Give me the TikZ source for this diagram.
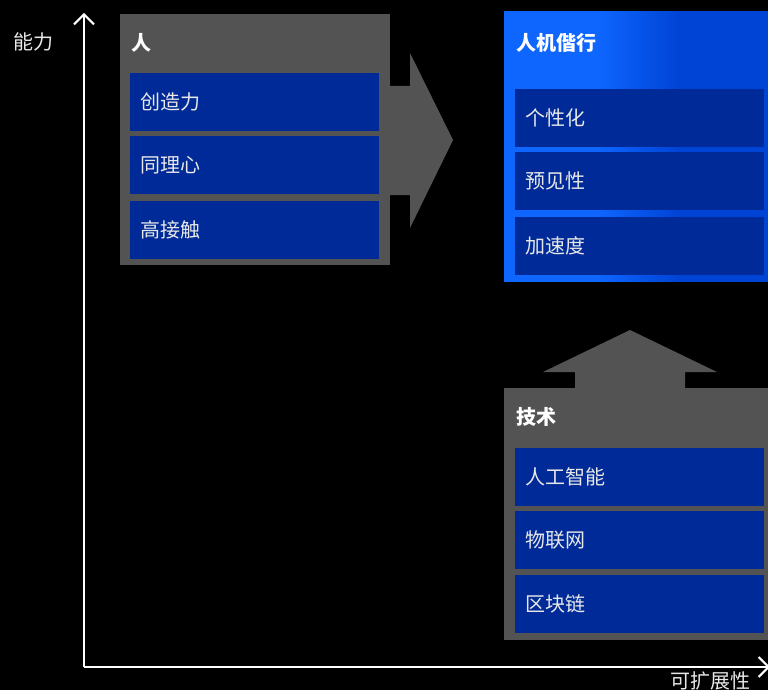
\documentclass[tikz,border=0pt]{standalone}
\usepackage{fontspec}
\setmainfont{Noto Sans CJK SC}
\usetikzlibrary{arrows.meta}
\definecolor{boxgray}{RGB}{83,83,83}
\definecolor{itemblue}{RGB}{0,42,152}
\definecolor{brightblue}{RGB}{14,102,255}
\definecolor{darkblue}{RGB}{0,68,214}
\definecolor{txt}{RGB}{232,232,232}
\begin{document}
\begin{tikzpicture}[x=1pt,y=-1pt,
  item/.style={anchor=north west, fill=itemblue, inner sep=0pt, inner xsep=10pt,
    text width=229pt, minimum height=58pt, align=left, text=txt,
    font=\fontsize{20}{24}\selectfont},
  title/.style={anchor=west, inner sep=0pt, text=white, font=\fontsize{20}{24}\selectfont\bfseries},
  axislabel/.style={inner sep=0pt, text=txt, font=\fontsize{20}{24}\selectfont},
  axis/.style={draw=white, line width=2pt, -{Straight Barb[length=10pt,width=20pt,line width=2pt]}},
  blockarrow/.style={fill=boxgray, draw=none}]
\fill[black] (0,0) rectangle (768,690);
\useasboundingbox (0,0) rectangle (768,690);

% axes
\coordinate (O) at (84,667);
\coordinate (ytop) at (84,13);
\coordinate (xend) at (770,667);
\draw[axis] (O) -- (ytop);
\draw[axis] (O) -- (xend);
\node[axislabel, anchor=west] (ylab) at (13,42) {能力};
\node[axislabel, anchor=west] (xlab) at (670,681) {可扩展性};

% right block arrow
\fill[blockarrow] (388,86) -- (410,86) -- (410,53) -- (453,140) -- (410,228) -- (410,195) -- (388,195) -- cycle;
% up block arrow
\fill[blockarrow] (575,390) -- (575,372) -- (543,372) -- (630,330) -- (717,372) -- (685,372) -- (685,390) -- cycle;

% box: people
\node[fill=boxgray, anchor=north west, minimum width=270pt, minimum height=251pt, inner sep=0pt] (human) at (120,14) {};
\node[title] (humant) at (131,43) {人};
\node[item] (h1) at (130,73) {创造力};
\node[item] (h2) at (130,136) {同理心};
\node[item] (h3) at (130,201) {高接触};

% box: human-machine (horizontal gradient drawn as strips)
\fill[darkblue] (504,11) rectangle (768,282);
\fill[brightblue] (504,11) rectangle (598,282);
\foreach \i in {0,...,39} {
  \pgfmathsetmacro{\pc}{100-\i*2.5}
  \fill[brightblue!\pc!darkblue] ({597+2*\i},11) rectangle ({597+2*\i+2.3},282);
}
\node[anchor=north west, minimum width=264pt, minimum height=271pt, inner sep=0pt] (hm) at (504,11) {};
\node[title] (hmt) at (516,43) {人机偕行};
\node[item] (m1) at (515,89) {个性化};
\node[item] (m2) at (515,152) {预见性};
\node[item] (m3) at (515,217) {加速度};

% box: technology
\node[fill=boxgray, anchor=north west, minimum width=264pt, minimum height=252pt, inner sep=0pt] (tech) at (504,388) {};
\node[title] (techt) at (516,417) {技术};
\node[item] (t1) at (515,448) {人工智能};
\node[item] (t2) at (515,511) {物联网};
\node[item] (t3) at (515,575) {区块链};
\end{tikzpicture}
\end{document}
